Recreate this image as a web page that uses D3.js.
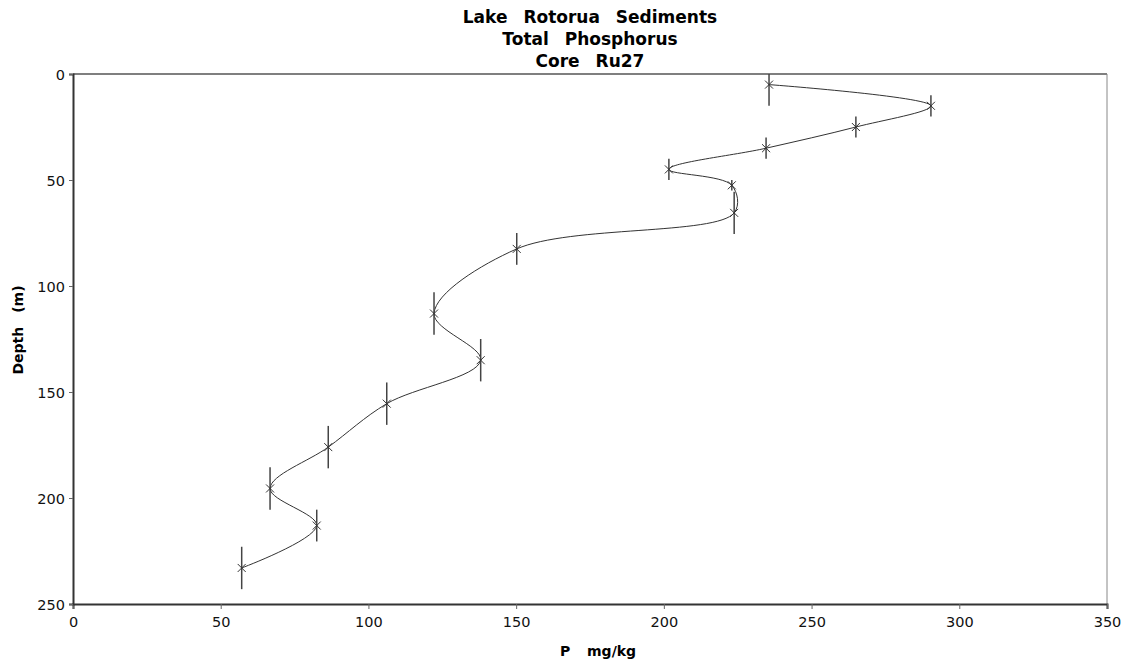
<!DOCTYPE html>
<html>
<head>
<meta charset="utf-8">
<script src="https://cdn.jsdelivr.net/npm/d3@7"></script>
<style>
  body { margin: 0; background: #fff; }
  text { font-family: "DejaVu Sans", Verdana, sans-serif; }
</style>
</head>
<body>
<div id="chart"></div>
<script>
// data
const phosphorus = [235.6, 290.4, 265, 234.6, 201.7, 223, 223.8, 150.2, 122.2, 138, 106.2, 86.4, 66.7, 82.5, 57.1];
const depths = [5, 15, 25, 35, 45, 52.5, 65.5, 82.5, 113, 135, 155.5, 176, 195.5, 213, 233];
const depthErr = [10, 5, 5, 5, 5, 2.5, 10, 7.5, 10, 10, 10, 10, 10, 7.5, 10];
const xTicks = [0, 50, 100, 150, 200, 250, 300, 350];
const yTicks = [0, 50, 100, 150, 200, 250];
const titleLines = ["Lake Rotorua Sediments", "Total Phosphorus", "Core Ru27"];

const width = 1130, height = 666;
const margin = { top: 74, right: 23, bottom: 62, left: 73 };

const svg = d3.select("#chart").append("svg")
  .attr("width", width)
  .attr("height", height);

const x = d3.scaleLinear().domain([0, 350]).range([margin.left, width - margin.right]);
const y = d3.scaleLinear().domain([0, 250]).range([margin.top, height - margin.bottom]);

const points = phosphorus.map((p, i) => ({ p, depth: depths[i], err: depthErr[i] }));

// title
svg.append("g").selectAll("text")
  .data(titleLines)
  .join("text")
  .attr("x", (margin.left + width - margin.right) / 2)
  .attr("y", (d, i) => 23 + i * 22)
  .attr("text-anchor", "middle")
  .style("font-size", "17px")
  .style("font-weight", "bold")
  .style("word-spacing", "10px")
  .text(d => d);

// frame: top black, right gray
svg.append("line")
  .attr("x1", x(0)).attr("x2", x(350))
  .attr("y1", y(0)).attr("y2", y(0))
  .attr("stroke", "#000").attr("stroke-width", 1.2);
svg.append("line")
  .attr("x1", x(350)).attr("x2", x(350))
  .attr("y1", y(0)).attr("y2", y(250))
  .attr("stroke", "#888").attr("stroke-width", 1);

// axes
const xAxis = svg.append("g")
  .attr("transform", `translate(0,${y(250)})`)
  .call(d3.axisBottom(x).tickValues(xTicks).tickSize(5).tickPadding(8));
const yAxis = svg.append("g")
  .attr("transform", `translate(${x(0)},0)`)
  .call(d3.axisLeft(y).tickValues(yTicks).tickSize(4).tickPadding(4));

[xAxis, yAxis].forEach(g => {
  g.select(".domain").attr("stroke", "#333").attr("stroke-width", 2);
  g.selectAll(".tick line").attr("stroke", "#666");
  g.selectAll(".tick text")
    .attr("fill", "#111")
    .style("font-size", "14.5px")
    .style("font-family", "'DejaVu Sans', Verdana, sans-serif");
});
yAxis.selectAll(".tick text").attr("dy", "0.35em");

// axis titles
svg.append("text")
  .attr("x", (margin.left + width - margin.right) / 2 + 8)
  .attr("y", 656)
  .attr("text-anchor", "middle")
  .style("font-size", "14px")
  .style("font-weight", "bold")
  .style("word-spacing", "12px")
  .text("P mg/kg");

svg.append("text")
  .attr("transform", `translate(23,330) rotate(-90)`)
  .attr("text-anchor", "middle")
  .style("font-size", "14px")
  .style("font-weight", "bold")
  .style("word-spacing", "9px")
  .text("Depth (m)");

// smoothed line
const line = d3.line()
  .x(d => x(d.p))
  .y(d => y(d.depth))
  .curve(d3.curveCatmullRom.alpha(0.5));

svg.append("path")
  .datum(points)
  .attr("fill", "none")
  .attr("stroke", "#333")
  .attr("stroke-width", 1)
  .attr("d", line);

// vertical error bars (depth interval)
svg.append("g").selectAll("line")
  .data(points)
  .join("line")
  .attr("x1", d => x(d.p)).attr("x2", d => x(d.p))
  .attr("y1", d => y(Math.max(0, d.depth - d.err)))
  .attr("y2", d => y(d.depth + d.err))
  .attr("stroke", "#444")
  .attr("stroke-width", 1.5);

// x markers
const m = 4;
svg.append("g").selectAll("path")
  .data(points)
  .join("path")
  .attr("d", d => {
    const cx = x(d.p), cy = y(d.depth);
    return `M${cx - m},${cy - m}L${cx + m},${cy + m}M${cx - m},${cy + m}L${cx + m},${cy - m}`;
  })
  .attr("stroke", "#333")
  .attr("stroke-width", 1);
</script>
</body>
</html>
